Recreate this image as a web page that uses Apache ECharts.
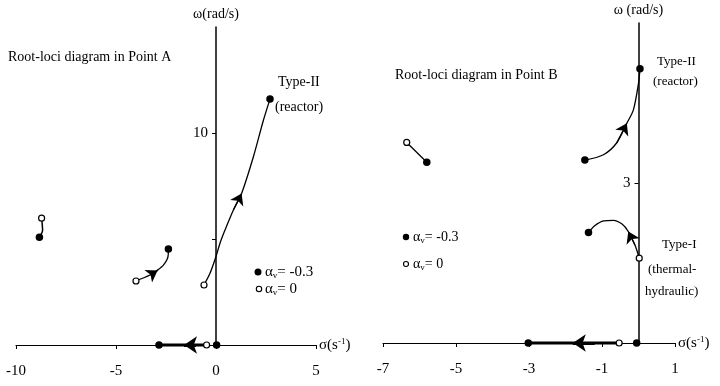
<!DOCTYPE html>
<html><head><meta charset="utf-8">
<script src="https://cdn.jsdelivr.net/npm/echarts@6/dist/echarts.min.js"></script>
<style>html,body{margin:0;padding:0;background:#fff}#c{width:720px;height:386px}</style>
</head><body><div id="c"></div>
<script>
// ---------- Panel A (Point A) ----------
const aXTicks = [-10, -5, 0, 5];
const aYTicks = [5, 10];
const aYLabels = [10];
const aTypeII = [[-0.6,2.83],[-0.3,3.38],[0,4.17],[0.2,4.8],[0.45,5.42],[0.87,6.37],[1.28,7.15],[1.87,8.88],[2.37,10.6],[2.7,11.6]];
const aMid = [[-4.0,3.02],[-3.3,3.3],[-2.97,3.5],[-2.63,3.77],[-2.4,4.17],[-2.38,4.53]];
const aFar = [[-8.83,5.08],[-8.67,5.42],[-8.7,5.8],[-8.72,5.98]];
const aReal = [[-2.85,0],[-0.47,0]];
const aFilled = [[2.7,11.6],[-2.38,4.53],[-8.83,5.08],[-2.85,0],[0.03,0]];
const aOpen = [[-0.6,2.83],[-4.0,3.02],[-8.72,5.98],[-0.47,0]];
const aArrows = [[[0.87,6.37],[1.28,7.15]], [[-3.3,3.3],[-2.92,3.52]]];
const aRealArrows = [[[-1.0,0],[-1.6,0]]];

// ---------- Panel B (Point B) ----------
const bXTicks = [-7, -5, -3, -1, 1];
const bYTicks = [3];
const bYLabels = [3];
const bTypeII = [[-1.47,3.43],[-0.96,3.53],[-0.6,3.75],[-0.32,4.12],[-0.14,4.37],[0,4.87],[0.04,5.14]];
const bTypeI = [[0.02,1.59],[-0.1,1.84],[-0.28,2.09],[-0.45,2.23],[-0.69,2.3],[-0.95,2.29],[-1.2,2.2],[-1.37,2.07]];
const bFar = [[-6.35,3.76],[-5.8,3.39]];
const bReal = [[-3.02,0],[-0.53,0]];
const bFilled = [[0.04,5.14],[-1.47,3.43],[-5.8,3.39],[-1.37,2.07],[-3.02,0],[-0.05,0]];
const bOpen = [[-6.35,3.76],[0.02,1.59],[-0.53,0]];
const bArrows = [[[-0.6,3.75],[-0.32,4.12]], [[-0.1,1.84],[-0.28,2.09]]];
const bRealArrows = [[[-1.2,0],[-1.8,0]]];

const FONT = 'Liberation Serif';
const INK = '#000';

function curve(data, gi, width, smooth) {
  return { type: 'line', xAxisIndex: gi, yAxisIndex: gi, data: data, smooth: smooth ? 0.3 : false, clip: false,
    showSymbol: false, symbol: 'none', lineStyle: { color: INK, width: width, opacity: 1 }, z: 3 };
}
function dots(data, gi, filled, size) {
  return { type: 'scatter', xAxisIndex: gi, yAxisIndex: gi, data: data, symbol: 'circle', symbolSize: size, clip: false,
    itemStyle: filled ? { color: INK, opacity: 1 } : { color: '#fff', borderColor: INK, borderWidth: 1.2, opacity: 1 }, z: 5 };
}
function arrows(list, gi, size, width) {
  return { type: 'lines', coordinateSystem: 'cartesian2d', xAxisIndex: gi, yAxisIndex: gi, polyline: false, clip: false,
    symbol: ['none', 'arrow'], symbolSize: size,
    data: list.map(p => ({ coords: p })),
    itemStyle: { color: INK, opacity: 1 },
    lineStyle: { color: INK, width: width, curveness: 0, opacity: 1 }, z: 4 };
}
function xAx(gi, min, max, ticks) {
  return { type: 'value', gridIndex: gi, min: min, max: max,
    name: '{a|σ(s}{s|-1}{a|)}', nameLocation: 'end', nameGap: 3,
    nameTextStyle: { rich: { a: { fontFamily: FONT, fontSize: 15, color: INK, lineHeight: 16 },
                             s: { fontFamily: FONT, fontSize: 9, color: INK, verticalAlign: 'top', lineHeight: 16 } } },
    axisLine: { onZero: false, lineStyle: { color: INK, width: 1.2 } },
    axisTick: { show: true, inside: false, length: 4, customValues: ticks, lineStyle: { color: INK } },
    axisLabel: { customValues: ticks, margin: 19, fontFamily: FONT, fontSize: 15, color: INK,
                 alignMinLabel: 'center', alignMaxLabel: 'center' },
    splitLine: { show: false } };
}
function yAx(gi, min, max, ticks, labels, name, offset) {
  return { type: 'value', gridIndex: gi, min: min, max: max, position: 'left', offset: offset,
    name: name, nameLocation: 'end', nameGap: 6,
    nameTextStyle: { fontFamily: FONT, fontSize: 14, color: INK },
    axisLine: { onZero: false, lineStyle: { color: INK, width: 1.5 } },
    axisTick: { show: true, inside: false, length: 4, customValues: ticks, lineStyle: { color: INK } },
    axisLabel: { customValues: labels, margin: 8, fontFamily: FONT, fontSize: 15, color: INK },
    splitLine: { show: false } };
}
function txt(x, y, s, size) {
  return { type: 'text', style: { x: x, y: y, text: s, fill: INK, font: size + 'px "' + FONT + '"',
    align: 'left', verticalAlign: 'middle' } };
}
function legendText(x, y, val, size) {
  return { type: 'text', style: { x: x, y: y, text: '{a|α}{s|v}{a|= ' + val + '}', verticalAlign: 'middle', align: 'left',
    rich: { a: { fontFamily: FONT, fontSize: size, fill: INK, lineHeight: 16 },
            s: { fontFamily: FONT, fontSize: 9, fill: INK, verticalAlign: 'bottom', lineHeight: 16 } } } };
}
function ldot(x, y, filled, r) {
  return { type: 'circle', shape: { cx: x, cy: y, r: r },
    style: filled ? { fill: INK } : { fill: '#fff', stroke: INK, lineWidth: 1.1 } };
}

// grid geometry; y axis sits at sigma = 0
const gA = { left: 16, width: 300, top: 27, height: 318 }, aMin = -10, aMax = 5;
const gB = { left: 383, width: 292, top: 23, height: 320 }, bMin = -7, bMax = 1;
const offA = -(0 - aMin) / (aMax - aMin) * gA.width;
const offB = -(0 - bMin) / (bMax - bMin) * gB.width;

const chart = echarts.init(document.getElementById('c'));
chart.setOption({
  animation: false,
  backgroundColor: '#fff',
  grid: [ gA, gB ],
  xAxis: [ xAx(0, aMin, aMax, aXTicks), xAx(1, bMin, bMax, bXTicks) ],
  yAxis: [ yAx(0, 0, 15, aYTicks, aYLabels, 'ω(rad/s)', offA), yAx(1, 0, 6, bYTicks, bYLabels, 'ω (rad/s)', offB) ],
  series: [
    curve(aTypeII, 0, 1.3, true), curve(aMid, 0, 1.3, true), curve(aFar, 0, 1.5, true), curve(aReal, 0, 3, false),
    dots(aFilled, 0, true, 7.5), dots(aOpen, 0, false, 6), arrows(aArrows, 0, 11, 1.2), arrows(aRealArrows, 0, 13, 3),
    curve(bTypeII, 1, 1.3, true), curve(bTypeI, 1, 1.3, true), curve(bFar, 1, 1.3, false), curve(bReal, 1, 3, false),
    dots(bFilled, 1, true, 7.5), dots(bOpen, 1, false, 6), arrows(bArrows, 1, 11, 1.2), arrows(bRealArrows, 1, 13, 3)
  ],
  graphic: [
    txt(8, 57, 'Root-loci diagram in Point A', 14),
    txt(278, 82, 'Type-II', 14),
    txt(275, 107, '(reactor)', 14),
    ldot(258, 272, true, 3.5), legendText(265, 272, '-0.3', 15),
    ldot(259, 289, false, 2.7), legendText(265, 289, '0', 15),
    txt(395, 75, 'Root-loci diagram in Point B', 14),
    txt(657, 62, 'Type-II', 13),
    txt(653, 82, '(reactor)', 13),
    txt(662, 245, 'Type-I', 13),
    txt(648, 270, '(thermal-', 13),
    txt(645, 292, 'hydraulic)', 13),
    ldot(406, 237, true, 3.2), legendText(413, 237, '-0.3', 14),
    ldot(406, 264, false, 2.5), legendText(413, 264, '0', 14)
  ]
});
</script></body></html>
